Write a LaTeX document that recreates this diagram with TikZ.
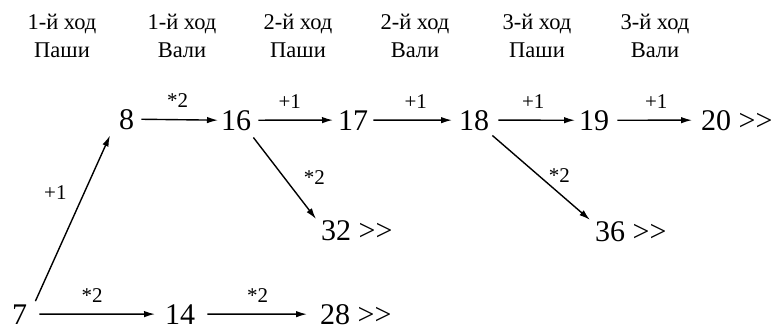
\documentclass[tikz,border=0pt]{standalone}
\usepackage{fontspec}
\setmainfont{Liberation Serif}
\usetikzlibrary{arrows.meta}
\begin{document}
\begin{tikzpicture}[x=1pt,y=-1pt,
  num/.style={inner sep=0pt, anchor=base west, font=\fontsize{30}{30}\selectfont},
  hdr/.style={inner sep=0pt, anchor=base, align=center, font=\fontsize{22.5}{28}\selectfont},
  lbl/.style={inner sep=0pt, font=\fontsize{21}{21}\selectfont},
  arr/.style={-{Latex[length=11pt,width=6.5pt]}, line width=1.4pt}]
\useasboundingbox (0,0) rectangle (780,330);
% headers (anchor base = baseline of the last line)
\node[hdr] (h1) at (62,57) {1-й ход\\Паши};
\node[hdr] (h2) at (182,57) {1-й ход\\Вали};
\node[hdr] (h3) at (298,57) {2-й ход\\Паши};
\node[hdr] (h4) at (415,57) {2-й ход\\Вали};
\node[hdr] (h5) at (537,57) {3-й ход\\Паши};
\node[hdr] (h6) at (655,57) {3-й ход\\Вали};
% numbers
\node[num] (n7) at (12,324) {7};
\node[num] (n14) at (165,324) {14};
\node[num] (n28) at (320,324) {28 >{}>};
\node[num] (n8) at (119,129) {8};
\node[num] (n16) at (221,130) {16};
\node[num] (n17) at (338,130) {17};
\node[num] (n18) at (459,130) {18};
\node[num] (n19) at (579,130) {19};
\node[num] (n20) at (701,130) {20 >{}>};
\node[num] (n32) at (321,240) {32 >{}>};
\node[num] (n36) at (595,241) {36 >{}>};
% horizontal arrows
\draw[arr, shorten <=7pt, shorten >=3pt] (n8.east) -- (n16.west)
  node[lbl, midway, anchor=base, yshift=12pt] {*2};
\draw[arr, shorten <=7pt, shorten >=5pt] (n16.east) -- (n17.west)
  node[lbl, midway, anchor=base, yshift=12pt, xshift=-5pt] {+1};
\draw[arr, shorten <=5pt, shorten >=7pt] (n17.east) -- (n18.west)
  node[lbl, midway, anchor=base, yshift=12pt, xshift=2pt] {+1};
\draw[arr, shorten <=9pt, shorten >=4pt] (n18.east) -- (n19.west)
  node[lbl, midway, anchor=base, yshift=12pt, xshift=-1pt] {+1};
\draw[arr, shorten <=8pt, shorten >=9pt] (n19.east) -- (n20.west)
  node[lbl, midway, anchor=base, yshift=12pt, xshift=1pt] {+1};
\draw[arr, shorten <=12pt, shorten >=10pt] (n7.east) -- (n14.west)
  node[lbl, midway, anchor=base, yshift=12pt, xshift=-4pt] {*2};
\draw[arr, shorten <=12pt, shorten >=13pt] (n14.east) -- (n28.west)
  node[lbl, midway, anchor=base, yshift=12pt] {*2};
% diagonal arrows
\draw[arr] ([xshift=8pt,yshift=3pt]n7.north east) -- ([xshift=-9pt,yshift=-6pt]n8.south west)
  node[lbl, pos=0.655, left=17pt] {+1};
\draw[arr] ([xshift=2pt,yshift=-7pt]n16.south east) -- ([xshift=-5pt,yshift=1pt]n32.north west)
  node[lbl, pos=0.49, right=19pt] {*2};
\draw[arr] ([xshift=3pt,yshift=-5pt]n18.south east) -- ([xshift=-5pt,yshift=1pt]n36.north west)
  node[lbl, pos=0.47, right=10pt] {*2};
\end{tikzpicture}
\end{document}
